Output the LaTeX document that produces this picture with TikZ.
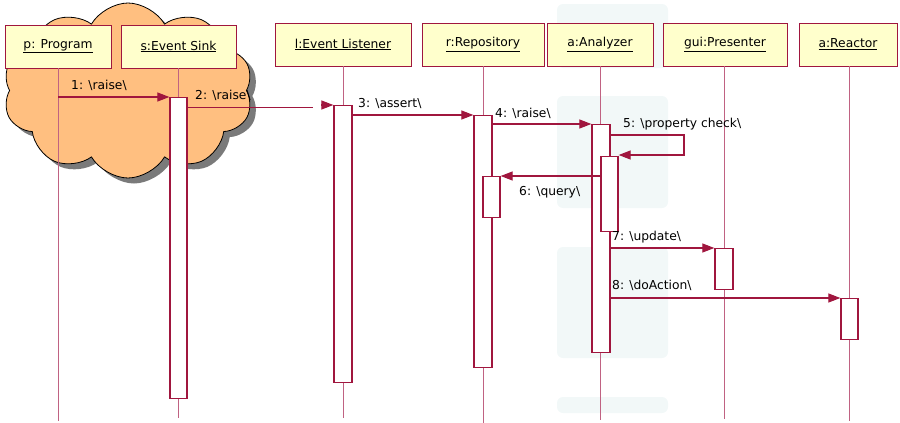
\documentclass[tikz,border=0pt]{standalone}
\usepackage{fontspec}
\setmainfont{DejaVu Sans}
\usetikzlibrary{shapes.symbols,arrows.meta}
\definecolor{edge}{HTML}{A0163E}
\definecolor{life}{HTML}{C06282}
\definecolor{hdrfill}{HTML}{FFFFCC}
\definecolor{cloudfill}{HTML}{FFBF80}
\definecolor{shade}{HTML}{7A7A7A}
\definecolor{haze}{HTML}{F2F8F8}
\tikzset{
  hdr/.style={draw=edge, line width=0.9pt, fill=hdrfill, minimum height=43pt,
    inner sep=0pt, font=\fontsize{12.3}{14}\selectfont},
  act/.style={draw=edge, line width=1.3pt, fill=white, minimum width=17pt,
    inner sep=0pt, anchor=north},
  lifeline/.style={draw=life, line width=0.9pt},
  msgline/.style={draw=edge, line width=1.2pt},
  msg/.style={msgline, -{Triangle[length=12pt,width=9pt]}},
  lbl/.style={anchor=base west, inner sep=0pt, font=\fontsize{12.3}{14}\selectfont},
  puff/.style={cloud, cloud puffs=10, cloud puff arc=120, aspect=1.43,
    minimum width=250pt, minimum height=175pt, inner sep=0pt}
}
\begin{document}
\begin{tikzpicture}[x=1pt,y=-1pt]
\useasboundingbox (0,0) rectangle (900,423);
% faint background pattern
\fill[haze, rounded corners=6pt] (557,4) rectangle (668,68);
\fill[haze, rounded corners=6pt] (557,96) rectangle (668,208);
\fill[haze, rounded corners=6pt] (557,247) rectangle (668,358);
\fill[haze, rounded corners=6pt] (557,397) rectangle (668,413);

% cloud with drop shadow
\node[puff, fill=shade] (cloudshadow) at (134,96) {};
\node[puff, draw=black, line width=0.8pt, fill=cloudfill] (cloud) at (128,90.5) {};

% object headers
\node[hdr, minimum width=106pt] (p)   at (58,46.5)  {\underline{p: Program}};
\node[hdr, minimum width=115pt] (s)   at (178.5,46.5) {\underline{s:Event Sink}};
\node[hdr, minimum width=136pt] (l)   at (343,44.5) {\underline{l:Event Listener}};
\node[hdr, minimum width=122pt] (r)   at (483,44.5) {\underline{r:Repository}};
\node[hdr, minimum width=106pt] (a)   at (600,44.5) {\underline{a:Analyzer}};
\node[hdr, minimum width=124pt] (gui) at (725,44.5) {\underline{gui:Presenter}};
\node[hdr, minimum width=98pt]  (x)   at (848,44.5) {\underline{a:Reactor}};

% lifeline ends
\coordinate (pEnd) at (58,421);
\coordinate (sEnd) at (178.5,418);
\coordinate (lEnd) at (343,418);
\coordinate (rEnd) at (483,423);
\coordinate (aEnd) at (600,420);
\coordinate (gEnd) at (724,419);
\coordinate (xEnd) at (849,421);

\draw[lifeline] (p.south) -- (pEnd);
\draw[lifeline] (s.south) -- (sEnd);
\draw[lifeline] (l.south) -- (lEnd);
\draw[lifeline] (r.south) -- (rEnd);
\draw[lifeline] (a.south) -- (aEnd);
\draw[lifeline] (a.south -| gEnd) -- (gEnd);
\draw[lifeline] (x.south -| xEnd) -- (xEnd);

% activation bars
\node[act, minimum height=301pt] (sA) at (178.5,97) {};
\node[act, minimum width=18pt, minimum height=277pt] (lA) at (343,105) {};
\node[act, minimum width=18pt, minimum height=252pt] (rA) at (483,115) {};
\node[act, minimum height=41pt] (rB) at (491.5,176) {};
\node[act, minimum width=18pt, minimum height=228pt] (aA) at (601,124) {};
\node[act, minimum height=75pt] (aB) at (609.5,156) {};
\node[act, minimum width=18pt, minimum height=41pt] (gA) at (724,248) {};
\node[act, minimum height=41pt] (xA) at (849.5,298) {};

% messages
\draw[msg] (p.south |- sA.north) -- (sA.north west);
\node[lbl] (t1) at (71,89) {1: \textbackslash raise\textbackslash};

\coordinate (m2s) at (187,107.5);
\coordinate (m2e) at (313,107.5);
\coordinate (m2h) at (321,105);
\draw[msgline] (m2s) -- (m2e);
\draw[msg] (m2h) -- (lA.north west);
\node[lbl] (t2) at (195,99) {2: \textbackslash raise\textbackslash};

\draw[msg] (lA.east |- rA.north) -- (rA.north west);
\node[lbl] (t3) at (358,107) {3: \textbackslash assert\textbackslash};

\draw[msg] (rA.east |- aA.north) -- (aA.north west);
\node[lbl] (t4) at (495,117) {4: \textbackslash raise\textbackslash};

\coordinate (m5a) at (684,135);
\coordinate (m5b) at (684,155);
\draw[msg] (aA.east |- m5a) -- (m5a) -- (m5b) -- (aB.north east |- m5b);
\node[lbl] (t5) at (623,127) {5: \textbackslash property check\textbackslash};

\draw[msg] (aB.west |- rB.north) -- (rB.north east);
\node[lbl] (t6) at (519,195) {6: \textbackslash query\textbackslash};

\draw[msg] (aA.east |- gA.north) -- (gA.north west);
\node[lbl] (t7) at (612,240) {7: \textbackslash update\textbackslash};

\draw[msg] (aA.east |- xA.north) -- (xA.north west);
\node[lbl] (t8) at (612,289) {8: \textbackslash doAction\textbackslash};
\end{tikzpicture}
\end{document}
